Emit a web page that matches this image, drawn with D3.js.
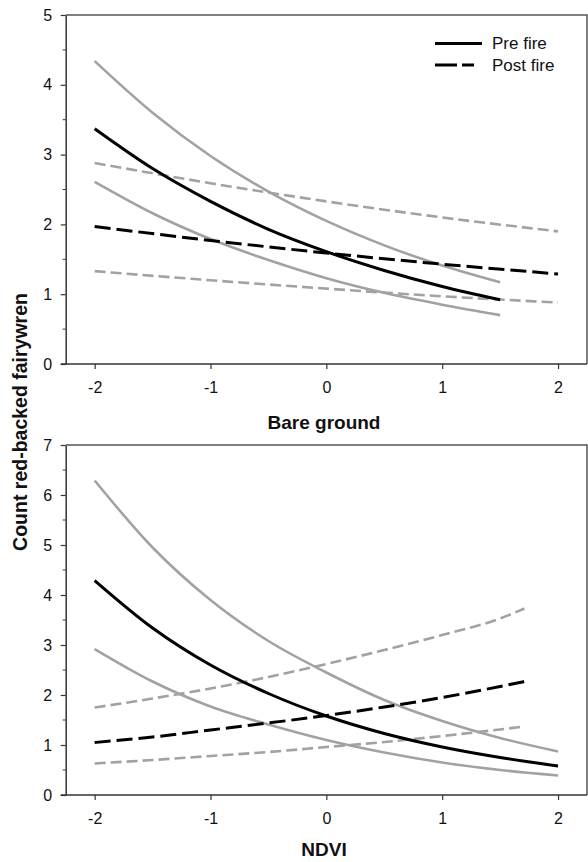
<!DOCTYPE html>
<html>
<head>
<meta charset="utf-8">
<script src="https://cdn.jsdelivr.net/npm/d3@7"></script>
<style>
  html, body { margin: 0; padding: 0; background: #fff; }
  svg { display: block; font-family: "Liberation Sans", Arial, sans-serif; }
</style>
</head>
<body>
<svg id="chart" width="588" height="862"></svg>
<script>
// ---------- DATA ----------
// Panel A: Bare ground
const bareX_pre  = [-2, -1.5, -1, -0.5, 0, 0.5, 1, 1.5];
const bare_pre_mean  = [3.37, 2.80, 2.33, 1.93, 1.61, 1.34, 1.11, 0.92];
const bare_pre_upper = [4.34, 3.60, 2.98, 2.47, 2.05, 1.70, 1.41, 1.17];
const bare_pre_lower = [2.61, 2.16, 1.79, 1.49, 1.23, 1.02, 0.85, 0.70];
const bareX_post = [-2, -1, 0, 1, 2];
const bare_post_mean  = [1.97, 1.77, 1.59, 1.43, 1.29];
const bare_post_upper = [2.88, 2.59, 2.33, 2.10, 1.90];
const bare_post_lower = [1.33, 1.20, 1.08, 0.97, 0.88];

// Panel B: NDVI
const ndviX_pre  = [-2, -1.5, -1, -0.5, 0, 0.5, 1, 1.5, 2];
const ndvi_pre_mean  = [4.29, 3.34, 2.60, 2.03, 1.58, 1.23, 0.96, 0.75, 0.58];
const ndvi_pre_upper = [6.29, 4.95, 3.90, 3.08, 2.45, 1.90, 1.48, 1.14, 0.87];
const ndvi_pre_lower = [2.92, 2.27, 1.77, 1.41, 1.10, 0.85, 0.65, 0.50, 0.39];
const ndviX_post = [-2, -1.5, -1, -0.5, 0, 0.5, 1, 1.5, 1.71];
const ndvi_post_mean  = [1.05, 1.16, 1.30, 1.44, 1.59, 1.76, 1.95, 2.17, 2.27];
const ndvi_post_upper = [1.75, 1.93, 2.13, 2.36, 2.62, 2.90, 3.20, 3.53, 3.73];
const ndvi_post_lower = [0.63, 0.70, 0.78, 0.86, 0.96, 1.06, 1.18, 1.31, 1.37];

const xTicks = [-2, -1, 0, 1, 2];
const yTicksA = [0, 1, 2, 3, 4, 5];
const yTicksB = [0, 1, 2, 3, 4, 5, 6, 7];
const xTitles = ["Bare ground", "NDVI"];
const yTitle = "Count red-backed fairywren";
const legendLabels = ["Pre fire", "Post fire"];

// ---------- DRAW ----------
const svg = d3.select("#chart");
const left = 65.7, right = 587;
const x = d3.scaleLinear().domain([-2.25, 2.25]).range([left, right]);

const GRAY = "#a2a2a2";
const panels = [
  { top: 15, bottom: 364, ymax: 5, yticks: yTicksA, title: xTitles[0], titleY: 429,
    series: [
      { xs: bareX_pre, ys: bare_pre_upper, color: GRAY, dash: null, w: 2.6 },
      { xs: bareX_pre, ys: bare_pre_lower, color: GRAY, dash: null, w: 2.6 },
      { xs: bareX_post, ys: bare_post_upper, color: GRAY, dash: "11,5", w: 2.6 },
      { xs: bareX_post, ys: bare_post_lower, color: GRAY, dash: "11,5", w: 2.6 },
      { xs: bareX_post, ys: bare_post_mean, color: "#000", dash: "16,6", w: 3 },
      { xs: bareX_pre, ys: bare_pre_mean, color: "#000", dash: null, w: 3 }
    ], legend: true },
  { top: 445, bottom: 795, ymax: 7, yticks: yTicksB, title: xTitles[1], titleY: 856,
    series: [
      { xs: ndviX_pre, ys: ndvi_pre_upper, color: GRAY, dash: null, w: 2.6 },
      { xs: ndviX_pre, ys: ndvi_pre_lower, color: GRAY, dash: null, w: 2.6 },
      { xs: ndviX_post, ys: ndvi_post_upper, color: GRAY, dash: "11,5", w: 2.6 },
      { xs: ndviX_post, ys: ndvi_post_lower, color: GRAY, dash: "11,5", w: 2.6 },
      { xs: ndviX_post, ys: ndvi_post_mean, color: "#000", dash: "16,6", w: 3 },
      { xs: ndviX_pre, ys: ndvi_pre_mean, color: "#000", dash: null, w: 3 }
    ], legend: false }
];

panels.forEach(p => {
  const y = d3.scaleLinear().domain([0, p.ymax]).range([p.bottom, p.top]);
  const g = svg.append("g");

  // frame (top & right)
  g.append("path")
    .attr("d", `M${left},${p.top}H${right}V${p.bottom}`)
    .attr("fill", "none").attr("stroke", "#555").attr("stroke-width", 1.5);

  // minor y ticks
  const minor = d3.range(0.5, p.ymax, 1);
  g.selectAll(".minor").data(minor).enter().append("line")
    .attr("x1", left - 3).attr("x2", left)
    .attr("y1", d => y(d)).attr("y2", d => y(d))
    .attr("stroke", "#333").attr("stroke-width", 1);

  // axes
  const fmt = d => String(d);
  const xa = g.append("g").attr("transform", `translate(0,${p.bottom})`)
    .call(d3.axisBottom(x).tickValues(xTicks).tickFormat(fmt).tickSize(5).tickPadding(13).tickSizeOuter(0));
  const ya = g.append("g").attr("transform", `translate(${left},0)`)
    .call(d3.axisLeft(y).tickValues(p.yticks).tickFormat(fmt).tickSize(5).tickPadding(8.5).tickSizeOuter(0));
  [xa, ya].forEach(a => {
    a.selectAll("path.domain").attr("stroke", "#333").attr("stroke-width", 1.5);
    a.selectAll(".tick line").attr("stroke", "#333").attr("stroke-width", 1.2);
    a.selectAll("text").attr("font-size", 16).attr("fill", "#111")
      .attr("font-family", "Liberation Sans, Arial, sans-serif");
  });
  xa.select("path.domain").attr("d", `M${left - 5},0H${right}`);

  // curves
  const line = d3.line().x(d => x(d[0])).y(d => y(d[1])).curve(d3.curveMonotoneX);
  p.series.forEach(s => {
    g.append("path")
      .datum(s.xs.map((v, i) => [v, s.ys[i]]))
      .attr("d", line)
      .attr("fill", "none")
      .attr("stroke", s.color)
      .attr("stroke-width", s.w)
      .attr("stroke-dasharray", s.dash);
  });

  // x title
  g.append("text")
    .attr("x", 324).attr("y", p.titleY)
    .attr("text-anchor", "middle")
    .attr("font-size", 19).attr("font-weight", "bold").attr("fill", "#111")
    .text(p.title);

  if (p.legend) {
    const lg = g.append("g");
    lg.append("line").attr("x1", 435).attr("x2", 482).attr("y1", 43.5).attr("y2", 43.5)
      .attr("stroke", "#000").attr("stroke-width", 3);
    lg.append("line").attr("x1", 435).attr("x2", 474).attr("y1", 65).attr("y2", 65)
      .attr("stroke", "#000").attr("stroke-width", 3).attr("stroke-dasharray", "22,5");
    lg.selectAll("text.lbl").data(legendLabels).enter().append("text")
      .attr("x", 492).attr("y", (d, i) => 43.5 + i * 21.5)
      .attr("dy", "0.35em")
      .attr("font-size", 17).attr("fill", "#111")
      .text(d => d);
  }
});

// y title
svg.append("text")
  .attr("transform", "translate(27,422) rotate(-90)")
  .attr("text-anchor", "middle")
  .attr("font-size", 19.5).attr("font-weight", "bold").attr("fill", "#111")
  .text(yTitle);
</script>
</body>
</html>
